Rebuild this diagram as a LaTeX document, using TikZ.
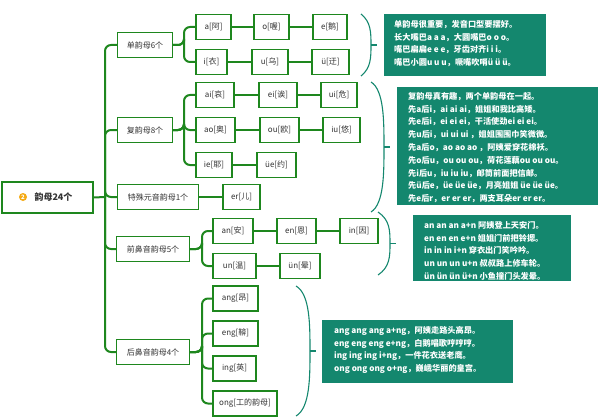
\documentclass[tikz,border=0pt]{standalone}
\usepackage{fontspec}
\setmainfont{Noto Sans CJK SC}
\definecolor{gline}{RGB}{30,135,30}
\definecolor{teal1}{RGB}{20,135,110}
\definecolor{orng}{RGB}{245,170,20}
\begin{document}
\begin{tikzpicture}[x=1pt,y=-1pt,
  bx/.style={draw=gline,line width=1.3pt,fill=white,minimum height=25pt,inner sep=2pt,font=\fontsize{8}{9}\selectfont,text=black!80},
  ln/.style={gline,line width=2pt,rounded corners=6pt},
  br/.style={teal1,line width=1.1pt},
  tb/.style={fill=teal1,text=white,font=\fontsize{8.2}{12.8}\selectfont\bfseries,align=left,anchor=north west,inner sep=0pt}]
\useasboundingbox (0,0) rectangle (600,420);
\newcommand\bxx[5]{\node[bx,minimum width=#4pt] (#1) at (#2,#3) {#5};}
% root
\node[bx,minimum width=91pt,minimum height=31pt,font=\fontsize{9}{10}\selectfont\bfseries] (root) at (47.5,197.5) {\hspace{12pt}韵母24个};
\node[circle,fill=orng,text=white,inner sep=0pt,minimum size=8pt,font=\fontsize{6}{6}\selectfont\bfseries] (ic) at (23,197) {2};
% categories
\bxx{c1}{145}{45}{55}{单韵母6个}
\bxx{c2}{145}{130}{55}{复韵母8个}
\bxx{c3}{158}{197}{81}{特殊元音韵母1个}
\bxx{c4}{153}{249}{73}{前鼻音韵母5个}
\bxx{c5}{153}{352}{73}{后鼻音韵母4个}
% leaves
\bxx{a}{213.5}{27}{35}{a[阿]}
\bxx{o}{271.5}{27}{35}{o[喔]}
\bxx{e}{330}{27}{34}{e[鹅]}
\bxx{i}{211.5}{62}{31}{i[衣]}
\bxx{u}{270}{62}{36}{u[乌]}
\bxx{v}{330.5}{62}{37}{ü[迂]}
\bxx{ai}{215}{95}{38}{ai[哀]}
\bxx{ei}{278}{95}{38}{ei[诶]}
\bxx{ui}{339}{95}{36}{ui[危]}
\bxx{ao}{215.5}{130}{39}{ao[奥]}
\bxx{ou}{279.5}{130}{39}{ou[欧]}
\bxx{iu}{341.5}{130}{37}{iu[悠]}
\bxx{ie}{214}{165}{36}{ie[耶]}
\bxx{ve}{276.5}{165}{39}{üe[约]}
\bxx{er}{241.5}{197}{37}{er[儿]}
\bxx{an}{233}{231}{40}{an[安]}
\bxx{en}{296.5}{231}{39}{en[恩]}
\bxx{in}{359}{231}{38}{in[因]}
\bxx{un}{234.5}{266}{43}{un[温]}
\bxx{vn}{300}{266}{40}{ün[晕]}
\bxx{ang}{235.5}{298.5}{45}{ang[昂]}
\bxx{eng}{235.5}{333.5}{45}{eng[鞥]}
\bxx{ing}{234.5}{368.5}{43}{ing[英]}
\bxx{ong}{245}{403.5}{64}{ong[工的韵母]}
% trunk
\coordinate (t) at (105,197);
\draw[ln] (root.east) -- (t);
\foreach \c in {c1,c2,c3,c4,c5} \draw[ln] (t) |- (\c.west);
\foreach \c in {a,i} \draw[ln] (c1.east) -| (184,45) |- (\c.west);
\foreach \c in {ai,ao,ie} \draw[ln] (c2.east) -| (184,130) |- (\c.west);
\foreach \c in {an,un} \draw[ln] (c4.east) -| (202,249) |- (\c.west);
\foreach \c in {ang,eng,ing,ong} \draw[ln] (c5.east) -| (202,352) |- (\c.west);
\foreach \x/\y in {a/o,o/e,i/u,u/v,ai/ei,ei/ui,ao/ou,ou/iu,ie/ve,c3/er,an/en,en/in,un/vn}
  \draw[ln] (\x.east) -- (\y.west);
% braces
\newcommand\brc[4]{% x, top, bottom, depth
  \draw[br] (#1,#2) .. controls ({#1+#4},{#2+8}) and ({#1+#4},{#2+(#3-#2)*0.3}) .. ({#1+#4},{(#2+#3)/2}) .. controls ({#1+#4},{#3-(#3-#2)*0.3}) and ({#1+#4},{#3-8}) .. (#1,#3);
  \draw[br] ({#1+#4},{(#2+#3)/2}) -- ({#1+#4+6},{(#2+#3)/2});}
\brc{361}{14}{76}{10}
\brc{371}{82}{212}{13}
\brc{378}{212}{275}{12}
\brc{296}{286}{416}{14}
% text boxes
\fill[teal1] (384,14) rectangle (546,76);
\node[tb] (t1) at (394,20) {单韵母很重要，发音口型要摆好。\\长大嘴巴a a a，大圆嘴巴o o o。\\嘴巴扁扁e e e，牙齿对齐i i i。\\嘴巴小圆u u u，噘嘴吹哨ü ü ü。};
\fill[teal1] (397,87) rectangle (598,205);
\node[tb] (t2) at (408,92) {复韵母真有趣，两个单韵母在一起。\\先a后i，ai ai ai，姐姐和我比高矮。\\先e后i，ei ei ei，干活使劲ei ei ei。\\先u后i，ui ui ui ，姐姐围围巾笑微微。\\先a后o，ao ao ao ，阿姨爱穿花棉袄。\\先o后u，ou ou ou，荷花莲藕ou ou ou。\\先i后u，iu iu iu，邮筒前面把信邮。\\先ü后e，üe üe üe，月亮姐姐 üe üe üe。\\先e后r，er er er，两支耳朵er er er。};
\fill[teal1] (413,215) rectangle (571,281);
\node[tb] (t3) at (424,221) {an an an a+n 阿姨登上天安门。\\en en en e+n 姐姐门前把铃摁。\\in in in i+n 穿衣出门笑吟吟。\\un un un u+n 叔叔路上修车轮。\\ün ün ün ü+n 小鱼撞门头发晕。};
\fill[teal1] (322,320) rectangle (513,383);
\node[tb] (t4) at (334,326) {ang ang ang a+ng，阿姨走路头高昂。\\eng eng eng e+ng，白鹅唱歌哼哼哼。\\ing ing ing i+ng，一件花衣送老鹰。\\ong ong ong o+ng，巍峨华丽的皇宫。};
\end{tikzpicture}
\end{document}
